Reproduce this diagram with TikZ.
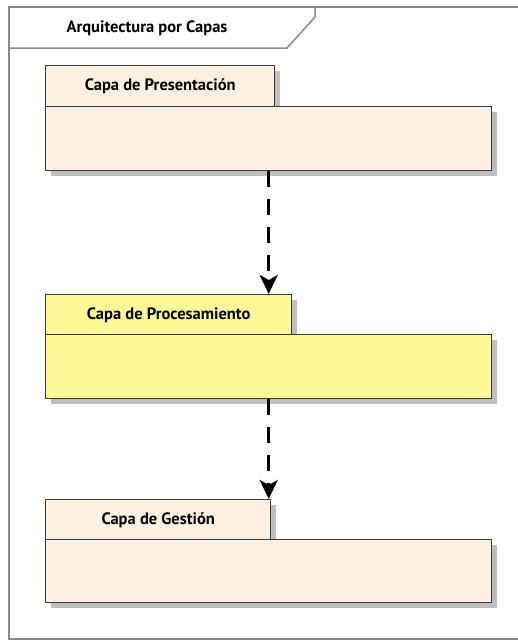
\documentclass[tikz,border=0pt]{standalone}
\usepackage{fontspec}
\setmainfont{PT Sans}
\usepackage{tikz}
\usetikzlibrary{shadows}
\usetikzlibrary{arrows.meta}
\usetikzlibrary{positioning}
\definecolor{presfill}{HTML}{FBF0E1}
\definecolor{procfill}{HTML}{FCF897}
\definecolor{pkgline}{HTML}{3A3A3A}
\definecolor{pkgshadow}{HTML}{BEBEBE}
\definecolor{frameline}{HTML}{8A8A8A}

\begin{document}
\begin{tikzpicture}[
  x=1pt,y=-1pt,
  dep/.style ={
    -{Stealth[length=19pt,width=18pt,inset=5pt]},
    line width=3pt,
    dash pattern=on 16pt off 12pt
  },
  pkgtab/.style 2 args={
    rectangle,
    draw=pkgline,
    fill=#2,
    line width=1.4pt,
    anchor=north west,
    minimum width=#1,
    minimum height=41pt,
    inner sep=0pt,
    font=\bfseries\fontsize{16.5}{19}\selectfont,
    drop shadow={shadow xshift=5pt,shadow yshift=-5pt,
      fill=pkgshadow,opacity=1}},
  pkgbody/.style={
    rectangle,
    draw=pkgline,
    fill=#1,
    line width=1.4pt,
    anchor=north west,
    minimum width=446pt,
    minimum height=64pt,
    inner sep=0pt,
    drop shadow={shadow xshift=5pt,shadow yshift=-5pt,
      fill=pkgshadow,opacity=1}},
  frame/.style={
    draw=frameline,
    line width=1.5pt},
]

  \useasboundingbox (0,0) rectangle (518,641);

  \def\pkgleft{45}%

  % frame
  \draw[frame] (518,7) -- (9,7) -- (9,639) -- (518,639);
  \draw[frame] (9,48) -- (287,48) -- (315,17) -- (315,7);
  \node[font=\bfseries\fontsize{16.5}{19}\selectfont] (title) 
      at (147,28) {Arquitectura por Capas};

  % Presentacion
  \node[pkgtab={229pt}{presfill}] (pres_tab) 
      at (\pkgleft, 65) {Capa de Presentación};
  \node[pkgbody={presfill}] (pres_body) 
      at (\pkgleft, 106) {};

  % Procesamiento
  \node[pkgtab={246pt}{procfill}] (proc_tab) 
      at (\pkgleft, 294) {Capa de Procesamiento};
  \node[pkgbody={procfill}] (proc_body) 
      at (\pkgleft, 334) {};

  % Gestion
  \node[pkgtab={225pt}{presfill}] (gest_tab) 
      at (\pkgleft, 499) {Capa de Gestión};
  \node[pkgbody={presfill}, minimum height=63pt] (gest_body) 
      at (\pkgleft, 539) {};

  \draw[dep] (pres_body.south) to (pres_body.south |- proc_tab.north);
  \draw[dep] (proc_body.south) to (proc_body.south |- gest_tab.north);

\end{tikzpicture}
\end{document}
